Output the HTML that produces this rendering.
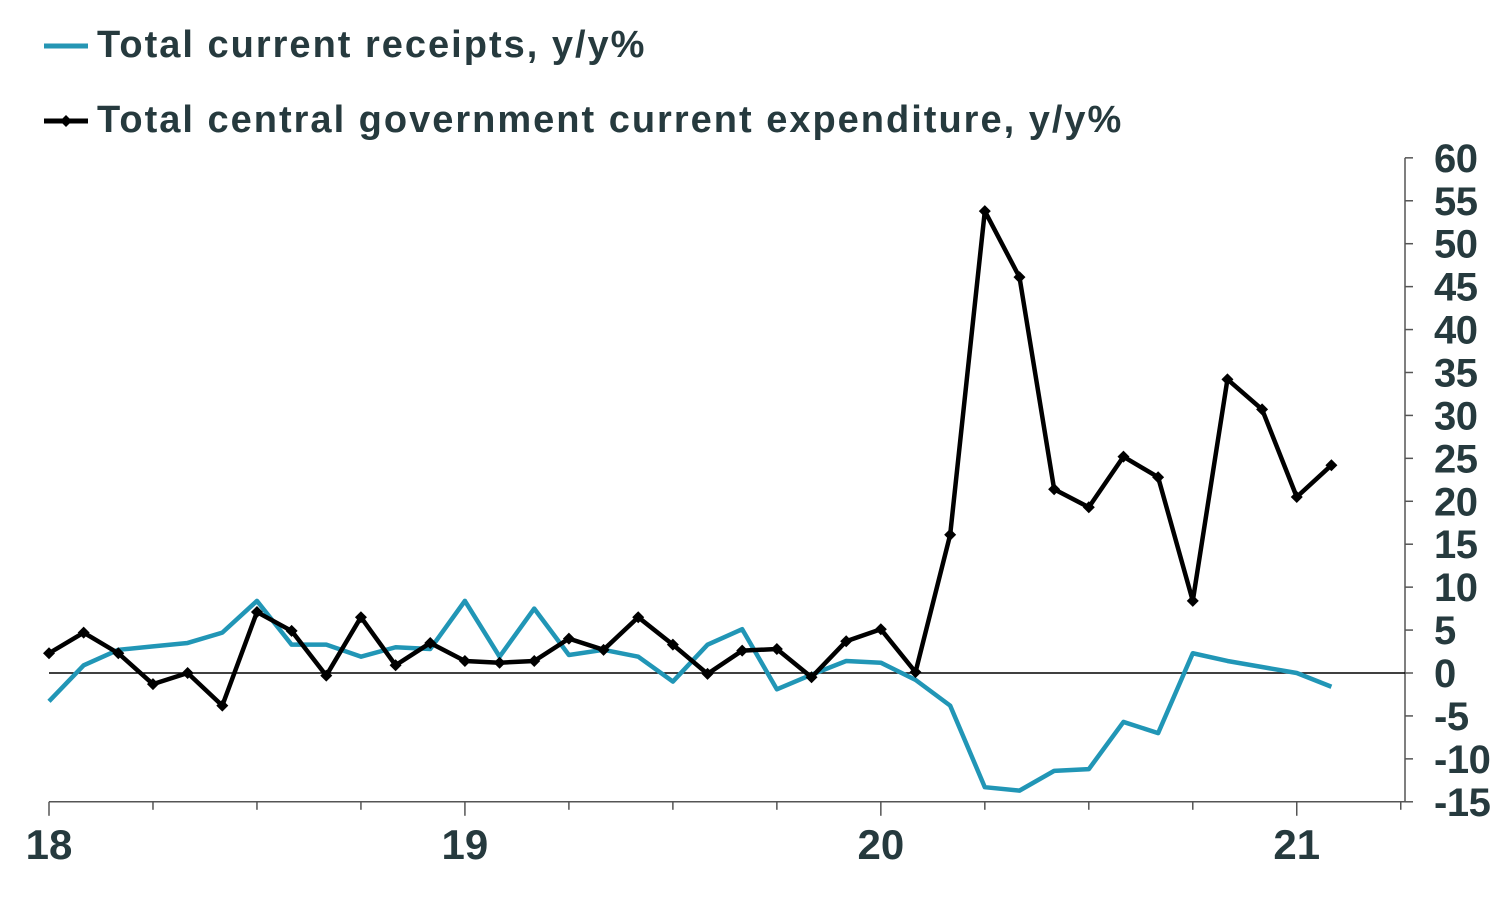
<!DOCTYPE html>
<html><head><meta charset="utf-8"><style>
body{margin:0;background:#fff;}
svg{display:block;font-family:"Liberation Sans",sans-serif;}
</style></head><body>
<svg id="chart" width="1506" height="898">
<g>
<g>
<line x1="44" y1="46" x2="88" y2="46" stroke="#2596b4" stroke-width="5"/>
<text x="97" y="57" font-size="38" fill="#263a3e" font-weight="bold" letter-spacing="2">Total current receipts, y/y%</text>
</g>
<g>
<line x1="44" y1="121" x2="88" y2="121" stroke="#000" stroke-width="5"/>
<path d="M66 115 L72 121 L66 127 L60 121Z" fill="#000"/>
<text x="97" y="132" font-size="38" fill="#263a3e" font-weight="bold" letter-spacing="2">Total central government current expenditure, y/y%</text>
</g>
</g>
<g id="axes"></g>
<g id="series"></g>
</svg>
<script>
const yTicks=[60,55,50,45,40,35,30,25,20,15,10,5,0,-5,-10,-15];
const xLabels=["18","19","20","21"];
const receipts=[-3.3,0.9,2.7,3.1,3.5,4.7,8.4,3.3,3.3,1.9,3.0,2.8,8.4,1.9,7.5,2.1,2.7,1.9,-1.0,3.3,5.1,-1.9,-0.2,1.4,1.2,-0.8,-3.8,-13.3,-13.7,-11.4,-11.2,-5.7,-7.0,2.3,1.4,0.7,0.0,-1.6];
const expenditure=[2.3,4.7,2.3,-1.3,0,-3.8,7.1,4.9,-0.3,6.5,0.9,3.5,1.4,1.2,1.4,4.0,2.7,6.5,3.3,-0.1,2.6,2.8,-0.5,3.7,5.1,0.1,16.1,53.8,46.1,21.4,19.3,25.2,22.8,8.4,34.2,30.7,20.5,24.2];
const NS="http://www.w3.org/2000/svg";
const x0=49,mw=34.66,yZero=673,ppu=8.586;
const X=i=>x0+i*mw;
const Y=v=>yZero-v*ppu;
function el(t,a,p){const e=document.createElementNS(NS,t);for(const k in a)e.setAttribute(k,a[k]);p.appendChild(e);return e;}
const ax=document.getElementById('axes'),se=document.getElementById('series');
const ya=el('line',{x1:1405,y1:Y(60),x2:1405,y2:Y(-15),stroke:'#555','stroke-width':1.5},ax);


yTicks.forEach(v=>{
 el('line',{x1:1405,y1:Y(v),x2:1413,y2:Y(v),stroke:'#555','stroke-width':1.5},ax);
 const t=el('text',{x:1434,y:Y(v)+14,'font-size':40,'font-weight':'bold',fill:'#263a3e','text-anchor':'start','letter-spacing':-0.5},ax);
 t.textContent=v;
 
 
});
const xa=el('line',{x1:x0,y1:Y(-15),x2:1405,y2:Y(-15),stroke:'#555','stroke-width':1.5},ax);


for(let m=0;m<=39;m+=3){el('line',{x1:X(m),y1:Y(-15),x2:X(m),y2:Y(-15)+(m%12==0?14:8),stroke:'#555','stroke-width':1.5},ax);}
xLabels.forEach((l,i)=>{
 const t=el('text',{x:X(i*12),y:859,'font-size':42,'font-weight':'bold',fill:'#263a3e','text-anchor':'middle'},ax);
 t.textContent=l;
 
 
});
const zl=el('line',{x1:x0,y1:Y(0),x2:1405,y2:Y(0),stroke:'#000','stroke-width':1.5},ax);


const rp=el('polyline',{points:receipts.map((v,i)=>X(i)+','+Y(v)).join(' '),fill:'none',stroke:'#2196b6','stroke-width':4.5,'stroke-linejoin':'round'},se);


const ep=el('polyline',{points:expenditure.map((v,i)=>X(i)+','+Y(v)).join(' '),fill:'none',stroke:'#000','stroke-width':4.5,'stroke-linejoin':'round'},se);


expenditure.forEach((v,i)=>{
 const x=X(i),y=Y(v);
 const p=el('path',{d:`M${x} ${y-6}L${x+6} ${y}L${x} ${y+6}L${x-6} ${y}Z`,fill:'#000'},se);
 
 
});
</script>
</body></html>
